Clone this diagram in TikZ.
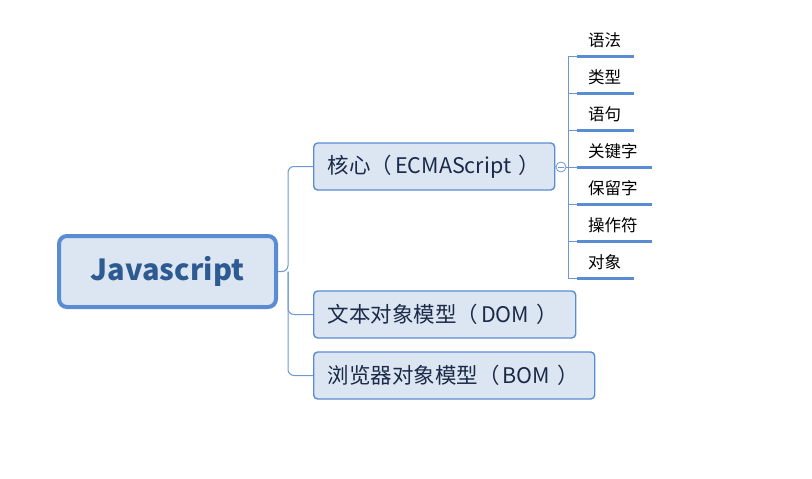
\documentclass[tikz,border=0pt]{standalone}
\usepackage{fontspec}
\setmainfont{Noto Sans CJK SC}
\usetikzlibrary{calc}
\definecolor{boxline}{HTML}{5A8CD3}
\definecolor{boxfill}{HTML}{DCE6F2}
\definecolor{conn}{HTML}{6E98D2}
\definecolor{roottext}{HTML}{2E5A92}
\definecolor{branchtext}{HTML}{1B2A48}
\definecolor{under}{HTML}{5A8CD3}
\newcommand{\lp}{（\hspace{3pt}}
\newcommand{\rp}{\hspace{7pt}）}
\tikzset{
  rootbox/.style={draw=boxline, line width=4pt, fill=boxfill, rounded corners=8pt,
    minimum width=217pt, minimum height=71pt, inner sep=0pt,
    font=\fontsize{29}{33}\selectfont\bfseries, text=roottext},
  branchbox/.style={draw=boxline, line width=1.4pt, fill=boxfill, rounded corners=4pt,
    minimum height=47pt, inner xsep=14pt, inner ysep=0pt, anchor=west,
    font=\fontsize{21.5}{24}\selectfont, text=branchtext},
  leaftext/.style={anchor=base west, inner sep=0pt, font=\fontsize{16.5}{18}\selectfont, text=black},
  connline/.style={draw=conn, line width=1pt, rounded corners=6pt},
  leafline/.style={draw=conn, line width=1pt},
  underline/.style={draw=under, line width=3pt},
}
\begin{document}
\begin{tikzpicture}[x=1pt,y=-1pt]
\useasboundingbox (0,0) rectangle (812,479);

% root
\node[rootbox] (root) at (167.5,271.5) {Javascript};

% branches
\node[branchbox] (core) at (313,166.5) {\makebox[213pt][l]{核心\lp ECMAScript\rp}};
\node[branchbox] (dom) at (313,314.5) {\makebox[234pt][l]{文本对象模型\lp DOM\rp}};
\node[branchbox] (bom) at (313,375.5) {\makebox[253pt][l]{浏览器对象模型\lp BOM\rp}};

\coordinate (hub) at (288,271.5);
\draw[connline] (root.east) -- (hub) |- (core.west);
\draw[connline] (hub) |- (dom.west);
\draw[connline] (hub) |- (bom.west);

% collapse marker
\node[draw=conn, fill=white, circle, line width=0.8pt, minimum size=10pt, inner sep=0pt] (toggle) at (561,167) {};
\draw[conn, line width=0.8pt] ($(toggle.center)+(-3,0)$) -- ($(toggle.center)+(3,0)$);
\draw[leafline] (core.east) -- (toggle.west);

% leaves
\coordinate (vtop) at (568,56);
\coordinate (vbot) at (568,278);
\draw[leafline] (toggle.east) -- (568,167);
\draw[leafline] (vtop) -- (vbot);

\foreach \y/\len/\name/\txt in {56/57/l1/语法, 93/57/l2/类型, 130/57/l3/语句, 167/75/l4/关键字, 204/75/l5/保留字, 241/75/l6/操作符, 278/57/l7/对象}{
  \coordinate (\name a) at (568,\y);
  \coordinate (\name b) at (577,\y);
  \coordinate (\name c) at (577+\len,\y);
  \node[leaftext] (\name) at (588,\y-9.5) {\txt};
  \draw[leafline] (\name a) -- (\name b);
  \draw[underline] (\name b) -- (\name c);
}
\end{tikzpicture}
\end{document}
